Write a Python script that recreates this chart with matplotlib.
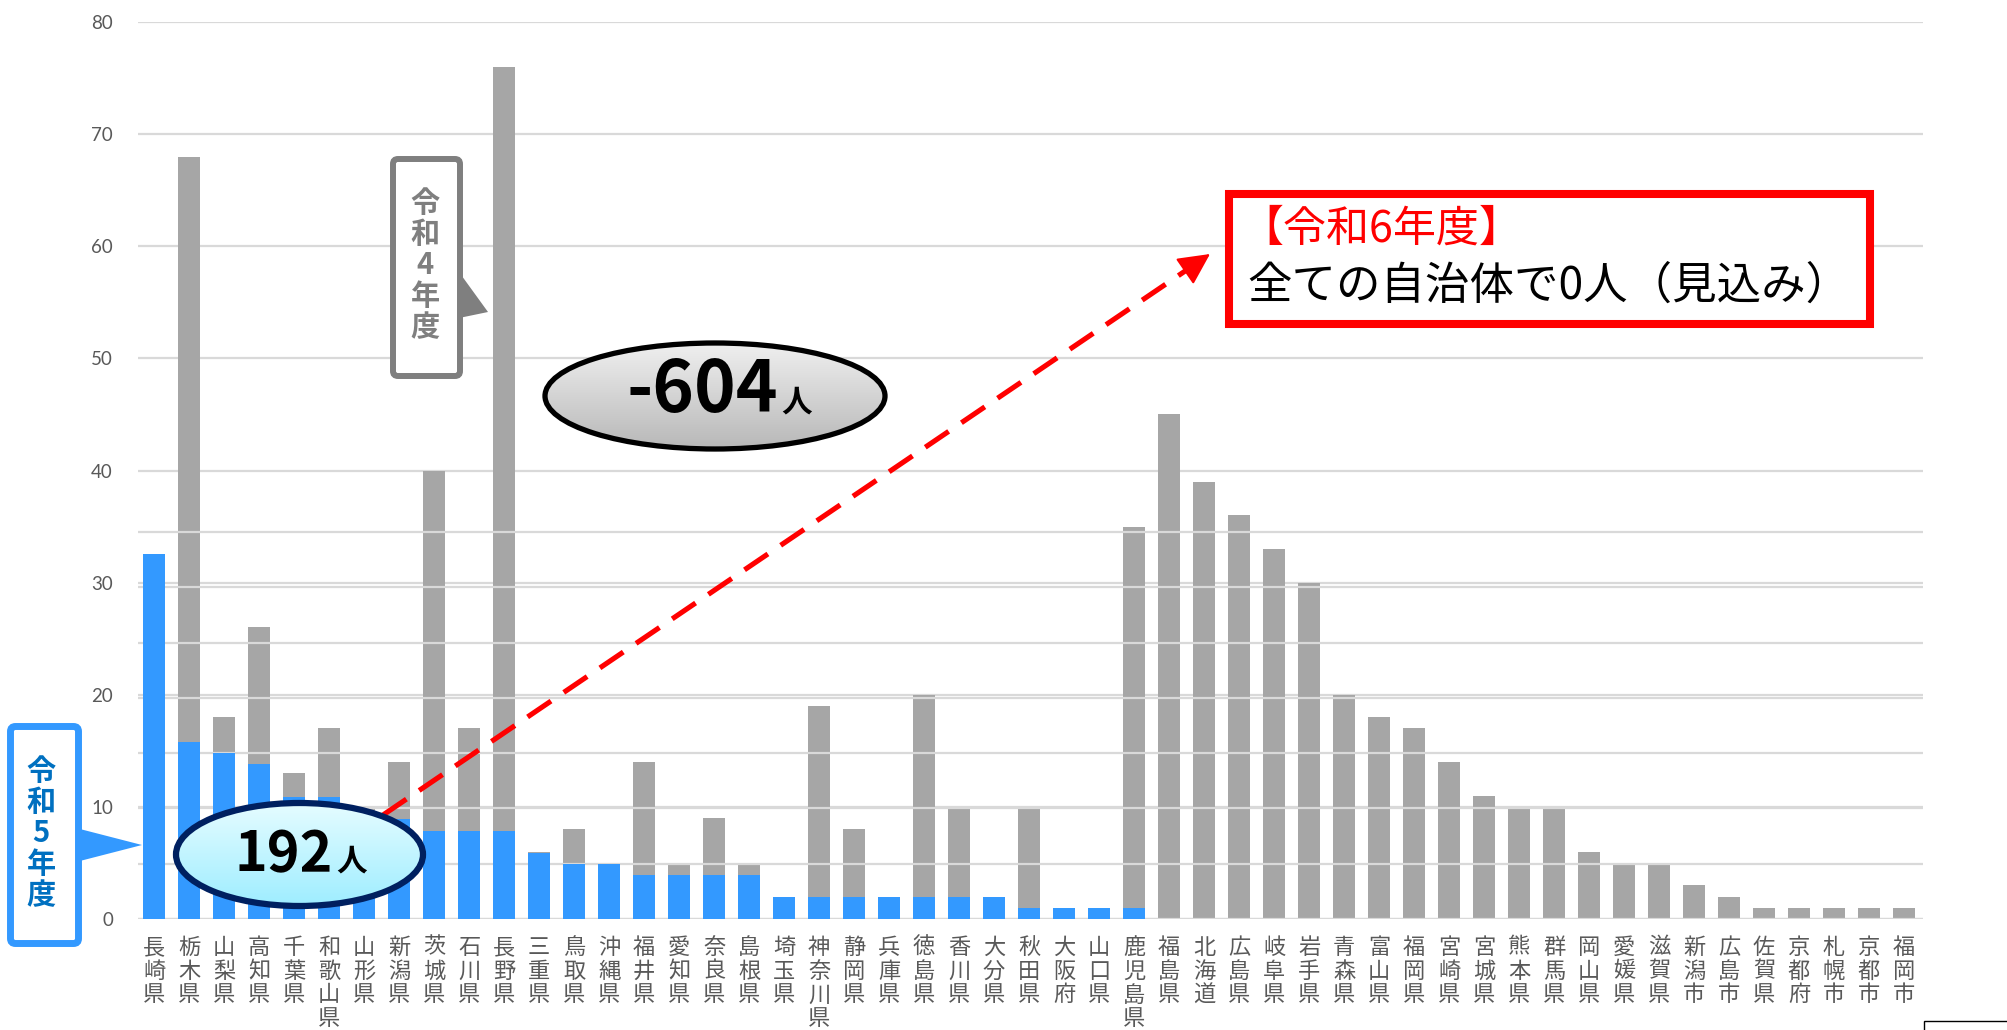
import numpy as np
import matplotlib.pyplot as plt
from matplotlib.patches import Ellipse, FancyBboxPatch, Polygon, Rectangle

plt.rcParams['font.family'] = ['Noto Sans CJK JP', 'DejaVu Sans']

# 自治体名（令和5年度の多い順）
names = ['長崎県', '栃木県', '山梨県', '高知県', '千葉県', '和歌山県', '山形県', '新潟県',
         '茨城県', '石川県', '長野県', '三重県', '鳥取県', '沖縄県', '福井県', '愛知県',
         '奈良県', '島根県', '埼玉県', '神奈川県', '静岡県', '兵庫県', '徳島県', '香川県',
         '大分県', '秋田県', '大阪府', '山口県', '鹿児島県', '福島県', '北海道', '広島県',
         '岐阜県', '岩手県', '青森県', '富山県', '福岡県', '宮崎県', '宮城県', '熊本県',
         '群馬県', '岡山県', '愛媛県', '滋賀県', '新潟市', '広島市', '佐賀県', '京都府',
         '札幌市', '京都市', '福岡市']

# 令和4年度（グレー）
r4 = [31, 68, 18, 26, 13, 17, 10, 14, 40, 17, 76, 6, 8, 5, 14, 5, 9, 5, 0, 19,
      8, 0, 20, 10, 0, 10, 0, 0, 35, 45, 39, 36, 33, 30, 20, 18, 17, 14, 11, 10,
      10, 6, 5, 5, 3, 2, 1, 1, 1, 1, 1]

# 令和5年度（青）
r5 = [33, 16, 15, 14, 11, 11, 9, 9, 8, 8, 8, 6, 5, 5, 4, 4, 4, 4, 2, 2,
      2, 2, 2, 2, 2, 1, 1, 1, 1] + [0] * 22

yticks_main = list(range(0, 90, 10))
yticks_r5 = list(range(0, 40, 5))

total_r5_label = '192'
diff_label = '-604'
r6_title = '【令和6年度】'
r6_text = '全ての自治体で0人（見込み）'

W, H = 2008, 1030
GRID = '#D9D9D9'
GRAY = '#A6A6A6'
BLUE = '#3399FF'
TXT = '#595959'

fig = plt.figure(figsize=(W / 100, H / 100), dpi=100)
ax = fig.add_axes([138 / W, 1 - 919 / H, (1923 - 138) / W, (919 - 22) / H])

x = np.arange(len(names))
ax.bar(x, r4, width=0.62, color=GRAY, linewidth=0, zorder=2)
ax.set_xlim(-0.46, len(names) - 0.46)
ax.set_ylim(0, 80)
ax.set_yticks(yticks_main)
ax.yaxis.grid(True, color=GRID, lw=1.6)
ax.set_axisbelow(True)
for s in ax.spines.values():
    s.set_visible(False)
ax.tick_params(axis='both', length=0)
ax.tick_params(axis='y', pad=18, labelsize=13.5, labelcolor=TXT)
for t in ax.get_yticklabels():
    t.set_fontfamily('Lato')
ax.set_xticks(x)
ax.set_xticklabels(['\n'.join(n) for n in names], fontsize=16, color=TXT,
                   linespacing=1.05)
ax.tick_params(axis='x', pad=12)

# 令和5年度のグラフは別の目盛りで重ねてある
ax2 = ax.twinx()
ax2.bar(x, r5, width=0.62, color=BLUE, linewidth=0, zorder=2)
ax2.set_ylim(0, 80 * 1.014)
ax2.set_yticks(yticks_r5)
ax2.yaxis.grid(True, color=GRID, lw=1.6)
ax2.set_axisbelow(True)
ax2.tick_params(axis='y', length=0, labelright=False)
for s in ax2.spines.values():
    s.set_visible(False)

# 注釈用の重ね描き（ピクセル座標）
ov = fig.add_axes([0, 0, 1, 1], zorder=10)
ov.set_xlim(0, W)
ov.set_ylim(H, 0)
ov.axis('off')


def grad_ellipse(cx, cy, w, h, top, bottom, edge, lw):
    e = Ellipse((cx, cy), w, h, facecolor='none', edgecolor=edge, lw=lw, zorder=5)
    ov.add_patch(e)
    c = np.linspace(0, 1, 256)[:, None, None]
    img = np.array(top)[None, None, :] * (1 - c) + np.array(bottom)[None, None, :] * c
    im = ov.imshow(img, extent=(cx - w / 2, cx + w / 2, cy + h / 2, cy - h / 2),
                   aspect='auto', origin='upper', zorder=4)
    im.set_clip_path(e)


# 赤い点線の矢印
ov.plot([383, 1194], [815, 265], color='red', lw=3.7, dashes=(5.5, 3),
        dash_capstyle='butt', zorder=3)
ov.annotate('', xy=(1210, 254), xytext=(1192, 266.4),
            arrowprops=dict(arrowstyle='-|>,head_length=0.9,head_width=0.45',
                            mutation_scale=22, color='red', lw=1.5,
                            shrinkA=0, shrinkB=0), zorder=3)

# 192人
grad_ellipse(299.5, 854.5, 247, 103, (0.90, 0.99, 1.0), (0.62, 0.93, 1.0), '#002060', 4.5)
ov.text(333, 871, total_r5_label, ha='right', va='baseline', fontsize=40,
        fontweight='bold', color='black', zorder=6)
ov.text(336, 871, '人', ha='left', va='baseline', fontsize=22,
        fontweight='bold', color='black', zorder=6)

# -604人
grad_ellipse(715, 396, 340, 106, (0.94, 0.94, 0.94), (0.72, 0.72, 0.72), 'black', 3.8)
ov.text(778, 412, diff_label, ha='right', va='baseline', fontsize=51,
        fontweight='bold', color='black', zorder=6)
ov.text(781, 412, '人', ha='left', va='baseline', fontsize=22,
        fontweight='bold', color='black', zorder=6)

# 令和5年度 吹き出し
ov.add_patch(FancyBboxPatch((10.5, 726.5), 68, 217,
                            boxstyle='round,pad=0,rounding_size=5',
                            fc='white', ec=BLUE, lw=5, zorder=5))
ov.add_patch(Polygon([(76, 828), (142, 845), (76, 862)], closed=True,
                     fc=BLUE, ec='none', zorder=5))
ov.text(41, 833, '令\n和\n5\n年\n度', ha='center', va='center', fontsize=21,
        fontweight='bold', color='#0070C0', linespacing=1.05, zorder=6)

# 令和4年度 吹き出し
ov.add_patch(FancyBboxPatch((393, 159), 67, 217,
                            boxstyle='round,pad=0,rounding_size=5',
                            fc='white', ec='#7F7F7F', lw=4.3, zorder=5))
ov.add_patch(Polygon([(459, 272), (488, 312), (459, 318)], closed=True,
                     fc='#7F7F7F', ec='none', zorder=5))
ov.text(425, 265, '令\n和\n4\n年\n度', ha='center', va='center', fontsize=21,
        fontweight='bold', color='#7F7F7F', linespacing=1.05, zorder=6)

# 令和6年度 ボックス
ov.add_patch(Rectangle((1229, 194), 641, 130, fc='white', ec='red', lw=5.8, zorder=5))
ov.text(1240, 230, r6_title, ha='left', va='center', fontsize=31, color='red', zorder=6)
ov.text(1247, 286, r6_text, ha='left', va='center', fontsize=32, color='black', zorder=6)

# 右下の切れた枠
ov.add_patch(Rectangle((1924, 1021), 100, 30, fc='white', ec='black', lw=1, zorder=5))

fig.savefig('out.png', dpi=100)
